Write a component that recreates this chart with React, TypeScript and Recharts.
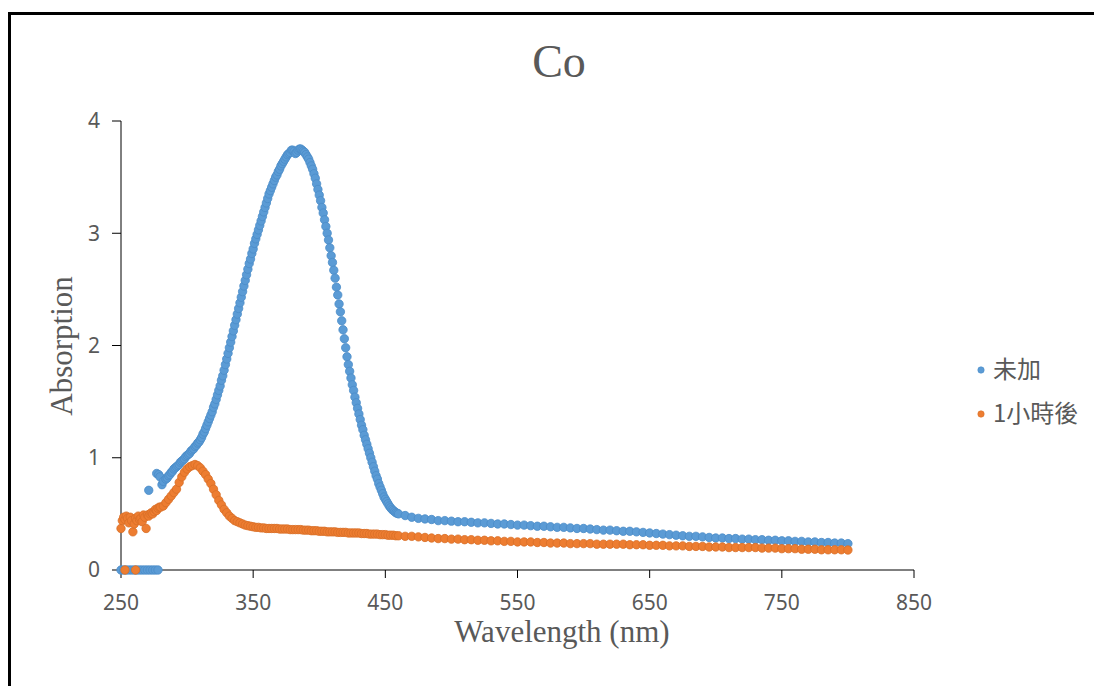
import { ScatterChart, Scatter, XAxis, YAxis } from "recharts";

// wavelength ticks / absorption ticks
const xTicks = [250, 350, 450, 550, 650, 750, 850];
const yTicks = [0, 1, 2, 3, 4];

const seriesNames = ["未加", "1小時後"];
const BLUE = "#5B9BD5";
const ORANGE = "#ED7D31";

// --- 未加 (before) ---
const blueZeroNm = [250, 252, 254, 256, 258, 260, 262, 264, 266, 268, 270, 272, 274, 276, 278];
const blueStrayNm = [271, 277, 278.5, 279.5, 281, 282];
const blueStrayAbs = [0.71, 0.86, 0.85, 0.83, 0.76, 0.79];
// 284..460 nm, 1 nm steps
const blueMainStart = 284;
const blueMain = [
  0.81, 0.82, 0.84, 0.85, 0.87, 0.88, 0.9, 0.91, 0.92, 0.93,
  0.94, 0.96, 0.97, 0.98, 0.99, 1.01, 1.02, 1.03, 1.04, 1.06,
  1.07, 1.08, 1.1, 1.11, 1.13, 1.14, 1.16, 1.18, 1.21, 1.23,
  1.26, 1.29, 1.32, 1.35, 1.38, 1.41, 1.45, 1.48, 1.52, 1.56,
  1.6, 1.64, 1.69, 1.73, 1.78, 1.83, 1.88, 1.93, 1.98, 2.03,
  2.08, 2.13, 2.18, 2.23, 2.28, 2.33, 2.38, 2.43, 2.48, 2.53,
  2.58, 2.63, 2.68, 2.73, 2.77, 2.82, 2.86, 2.91, 2.95, 2.99,
  3.03, 3.07, 3.11, 3.15, 3.19, 3.23, 3.27, 3.31, 3.35, 3.38,
  3.41, 3.44, 3.47, 3.5, 3.52, 3.55, 3.57, 3.6, 3.62, 3.64,
  3.66, 3.68, 3.7, 3.71, 3.72, 3.74, 3.74, 3.73, 3.71, 3.72,
  3.74,
  3.75, 3.75, 3.74, 3.73, 3.72, 3.7, 3.68, 3.66, 3.63, 3.6,
  3.57, 3.53, 3.49, 3.44, 3.39, 3.34, 3.29, 3.23, 3.18, 3.12,
  3.06, 3.0, 2.94, 2.87, 2.8, 2.74, 2.67, 2.6, 2.52, 2.45,
  2.37, 2.3, 2.22, 2.14, 2.06, 1.98, 1.9, 1.83, 1.77, 1.71,
  1.65, 1.6, 1.54, 1.49, 1.44, 1.39, 1.34, 1.29, 1.25, 1.2,
  1.16, 1.12, 1.08, 1.04, 1.0, 0.96, 0.92, 0.88, 0.84, 0.81,
  0.77, 0.74, 0.71, 0.68, 0.65, 0.63, 0.61, 0.59, 0.57, 0.555,
  0.54, 0.53, 0.52, 0.51, 0.505, 0.5,
];
// 465..800 nm, 5 nm steps
const blueTailStart = 465;
const blueTail = [
  0.485, 0.47, 0.46, 0.455, 0.45, 0.44, 0.44, 0.435, 0.43, 0.43,
  0.425, 0.42, 0.42, 0.415, 0.41, 0.41, 0.405, 0.4, 0.4, 0.395,
  0.39, 0.39, 0.385, 0.38, 0.38, 0.375, 0.37, 0.37, 0.365, 0.36,
  0.355, 0.355, 0.35, 0.345, 0.345, 0.34, 0.335, 0.33, 0.325, 0.32,
  0.315, 0.31, 0.305, 0.3, 0.3, 0.295, 0.29, 0.285, 0.285, 0.28,
  0.28, 0.275, 0.275, 0.27, 0.27, 0.265, 0.265, 0.26, 0.26, 0.255,
  0.255, 0.25, 0.25, 0.245, 0.245, 0.24, 0.24, 0.235,
];

// --- 1小時後 (after 1 hour) ---
const orangeZeroNm = [253, 261];
// 250..279 nm, 1 nm steps (noisy start)
const orangeNoisyStart = 250;
const orangeNoisy = [
  0.37, 0.44, 0.47, 0.45, 0.48, 0.46, 0.42, 0.47, 0.44, 0.34,
  0.41, 0.46, 0.44, 0.48, 0.45, 0.46, 0.43, 0.49, 0.47, 0.37,
  0.49, 0.48, 0.5, 0.51, 0.5, 0.52, 0.54, 0.53, 0.55, 0.56,
];
// 280..460 nm, 2 nm steps
const orangeMainStart = 280;
const orangeMain = [
  0.56, 0.57, 0.6, 0.63, 0.66, 0.69, 0.72, 0.78, 0.83, 0.87,
  0.9, 0.92, 0.93, 0.94, 0.93, 0.91, 0.88, 0.85, 0.81, 0.77,
  0.72, 0.67, 0.62, 0.58, 0.54, 0.51, 0.48, 0.46, 0.44, 0.43,
  0.42, 0.41, 0.4, 0.395, 0.39, 0.385, 0.38, 0.38, 0.375, 0.375,
  0.37, 0.37, 0.37, 0.37, 0.37, 0.365, 0.365, 0.365, 0.365, 0.36,
  0.36, 0.36, 0.36, 0.36, 0.355, 0.355, 0.355, 0.35, 0.35, 0.35,
  0.345, 0.345, 0.345, 0.34, 0.34, 0.34, 0.34, 0.335, 0.335, 0.335,
  0.335, 0.33, 0.33, 0.33, 0.33, 0.33, 0.325, 0.325, 0.325, 0.32,
  0.32, 0.32, 0.32, 0.315, 0.315, 0.315, 0.31, 0.31, 0.31, 0.305,
  0.305,
];
// 465..800 nm, 5 nm steps
const orangeTailStart = 465;
const orangeTail = [
  0.3, 0.3, 0.295, 0.29, 0.285, 0.28, 0.28, 0.275, 0.275, 0.27,
  0.27, 0.265, 0.265, 0.26, 0.26, 0.255, 0.255, 0.25, 0.25, 0.25,
  0.245, 0.245, 0.24, 0.24, 0.24, 0.235, 0.235, 0.235, 0.235, 0.23,
  0.23, 0.23, 0.23, 0.23, 0.225, 0.225, 0.225, 0.22, 0.22, 0.22,
  0.215, 0.215, 0.215, 0.21, 0.21, 0.21, 0.205, 0.205, 0.205, 0.2,
  0.2, 0.2, 0.2, 0.2, 0.195, 0.195, 0.195, 0.19, 0.19, 0.19,
  0.185, 0.185, 0.185, 0.18, 0.18, 0.18, 0.18, 0.178,
];

type Pt = { x: number; y: number };

const stepped = (start: number, step: number, vals: number[]): Pt[] =>
  vals.map((v, i) => ({ x: start + i * step, y: v }));

const paired = (xs: number[], ys: number[]): Pt[] =>
  xs.map((x, i) => ({ x, y: ys[i] }));

const blueData: Pt[] = [
  ...paired(blueZeroNm, blueZeroNm.map(() => 0)),
  ...paired(blueStrayNm, blueStrayAbs),
  ...stepped(blueMainStart, 1, blueMain),
  ...stepped(blueTailStart, 5, blueTail),
];

const orangeData: Pt[] = [
  ...paired(orangeZeroNm, orangeZeroNm.map(() => 0)),
  ...stepped(orangeNoisyStart, 1, orangeNoisy),
  ...stepped(orangeMainStart, 2, orangeMain),
  ...stepped(orangeTailStart, 5, orangeTail),
];

const marker = (fill: string, stroke: string) => (p: any) =>
  <circle cx={p.cx} cy={p.cy} r={4.2} fill={fill} stroke={stroke} strokeWidth={0.8} />;

const tickStyle = { fontSize: 21, fill: "#595959", fontFamily: "Noto Sans" };
const serif = "'Liberation Serif', 'DejaVu Serif', serif";

export default function App() {
  return (
    <div style={{ position: "absolute", left: 0, top: 0, width: 1094, height: 686, background: "#fff", overflow: "hidden" }}>
      <div
        style={{
          position: "absolute",
          left: 8,
          top: 12,
          width: 1200,
          height: 800,
          borderTop: "3px solid #000",
          borderLeft: "3px solid #000",
        }}
      />
      <ScatterChart
        width={1094}
        height={686}
        margin={{ top: 121, right: 180, bottom: 86, left: 61 }}
        style={{ position: "absolute", left: 0, top: 0 }}
      >
        <XAxis
          type="number"
          dataKey="x"
          domain={[250, 850]}
          ticks={xTicks}
          height={30}
          tickSize={8}
          tickMargin={17}
          axisLine={{ stroke: "#000" }}
          tickLine={{ stroke: "#000" }}
          tick={tickStyle}
        />
        <YAxis
          type="number"
          dataKey="y"
          domain={[0, 4]}
          ticks={yTicks}
          width={60}
          tickSize={9}
          tickMargin={12}
          axisLine={{ stroke: "#000" }}
          tickLine={{ stroke: "#000" }}
          tick={tickStyle}
        />
        <Scatter name={seriesNames[0]} data={blueData} isAnimationActive={false} shape={marker(BLUE, "#4A8BC8")} />
        <Scatter name={seriesNames[1]} data={orangeData} isAnimationActive={false} shape={marker(ORANGE, "#D86E27")} />
      </ScatterChart>
      <svg width={1094} height={686} style={{ position: "absolute", left: 0, top: 0, pointerEvents: "none" }}>
        <text x={559} y={77} textAnchor="middle" fontFamily={serif} fontSize={46} fill="#595959">
          Co
        </text>
        <text x={562} y={642} textAnchor="middle" fontFamily={serif} fontSize={31} fill="#595959">
          Wavelength (nm)
        </text>
        <text
          x={0}
          y={0}
          transform="translate(72,346) rotate(-90)"
          textAnchor="middle"
          fontFamily={serif}
          fontSize={31}
          fill="#595959"
        >
          Absorption
        </text>
        {seriesNames.map((name, i) => (
          <g key={name}>
            <circle cx={981} cy={370 + i * 44} r={3.2} fill={i === 0 ? BLUE : ORANGE} stroke={i === 0 ? "#4A8BC8" : "#D86E27"} strokeWidth={0.6} />
            <text
              x={993}
              y={378 + i * 44}
              fontFamily="'Noto Sans CJK TC', 'Noto Sans'"
              fontSize={24}
              fill="#595959"
            >
              {name}
            </text>
          </g>
        ))}
      </svg>
    </div>
  );
}
